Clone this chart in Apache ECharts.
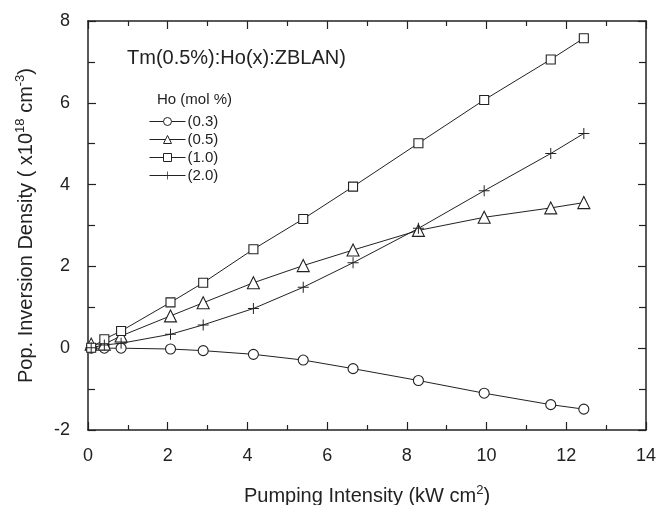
<!DOCTYPE html>
<html>
<head>
<meta charset="utf-8">
<script src="https://cdn.jsdelivr.net/npm/echarts@6/dist/echarts.min.js"></script>
<style>
  html, body { margin: 0; padding: 0; background: #fff; }
  #chart { width: 662px; height: 505px; }
</style>
</head>
<body>
<div id="chart"></div>
<script>
// pumping intensity (kW cm^2), same for all four samples
const intensity = [0.08, 0.41, 0.83, 2.07, 2.89, 4.15, 5.40, 6.65, 8.29, 9.94, 11.61, 12.44];

// population inversion density (x10^18 cm^-3)
const ho03 = [0.0, 0.0, 0.0, -0.02, -0.06, -0.15, -0.29, -0.50, -0.79, -1.10, -1.38, -1.49];
const ho05 = [0.10, 0.10, 0.30, 0.79, 1.11, 1.60, 2.02, 2.40, 2.88, 3.20, 3.43, 3.56];
const ho10 = [0.01, 0.22, 0.42, 1.12, 1.60, 2.42, 3.16, 3.95, 5.01, 6.07, 7.06, 7.58];
const ho20 = [0.01, 0.08, 0.12, 0.34, 0.57, 0.97, 1.49, 2.09, 2.93, 3.85, 4.76, 5.25];

const seriesNames = ['(0.3)', '(0.5)', '(1.0)', '(2.0)'];

const xTicks = [0, 2, 4, 6, 8, 10, 12, 14];
const yTicks = [-2, 0, 2, 4, 6, 8];

const ink = '#222';
const font = 'Liberation Sans, Arial, sans-serif';
const plusPath = 'path://M4.55,0h0.9v4.55h4.55v0.9h-4.55v4.55h-0.9v-4.55h-4.55v-0.9h4.55z';

const chart = echarts.init(document.getElementById('chart'), null, { renderer: 'canvas' });

const zip = arr => intensity.map((x, i) => [x, arr[i]]);

// open markers: white fill with a thin dark outline
function makeSeries(name, values, symbol, size) {
  const plus = symbol === plusPath;
  return {
    name: name,
    type: 'line',
    data: zip(values),
    symbol: symbol,
    symbolSize: size,
    showAllSymbol: true,
    lineStyle: { color: ink, width: 1 },
    itemStyle: plus
      ? { color: ink, borderWidth: 0 }
      : { color: '#fff', borderColor: ink, borderWidth: 1.1 },
    emphasis: { disabled: true },
    animation: false
  };
}

const nameRich = {
  t: { fontSize: 20, fontFamily: font, color: ink, lineHeight: 24 },
  s: { fontSize: 13, fontFamily: font, color: ink, verticalAlign: 'top', lineHeight: 16 }
};

const tickAxisX = (pos, labels) => ({
  type: 'value',
  position: pos,
  min: xTicks[0],
  max: xTicks[xTicks.length - 1],
  interval: 2,
  axisLine: { show: true, onZero: false, lineStyle: { color: ink, width: 1.5 } },
  axisTick: { inside: true, length: 8, lineStyle: { color: ink, width: 1.2 } },
  minorTick: { show: true, splitNumber: 2, length: 5, lineStyle: { color: ink, width: 1.2 } },
  splitLine: { show: false },
  axisLabel: { show: labels, color: ink, fontSize: 18, fontFamily: font, margin: 17 }
});

const tickAxisY = (pos, labels) => ({
  type: 'value',
  position: pos,
  min: yTicks[0],
  max: yTicks[yTicks.length - 1],
  interval: 2,
  axisLine: { show: true, onZero: false, lineStyle: { color: ink, width: 1.5 } },
  axisTick: { inside: true, length: 8, lineStyle: { color: ink, width: 1.2 } },
  minorTick: { show: true, splitNumber: 2, length: 7, lineStyle: { color: ink, width: 1.2 } },
  splitLine: { show: false },
  axisLabel: { show: labels, color: ink, fontSize: 18, fontFamily: font, margin: 18 }
});

const xMain = Object.assign(tickAxisX('bottom', true), {
  name: '{t|Pumping Intensity (kW cm}{s|2}{t|)}',
  nameLocation: 'middle',
  nameGap: 54,
  nameTextStyle: { rich: nameRich }
});

const yMain = Object.assign(tickAxisY('left', true), {
  name: '{t|Pop. Inversion Density ( x10}{s|18}{t| cm}{s|-3}{t|)}',
  nameLocation: 'middle',
  nameGap: 50,
  nameTextStyle: { rich: nameRich }
});

const option = {
  backgroundColor: '#fff',
  animation: false,
  grid: { left: 88, right: 16, top: 21, bottom: 75, containLabel: false, outerBoundsMode: 'none' },
  xAxis: [xMain, tickAxisX('top', false)],
  yAxis: [yMain, tickAxisY('right', false)],
  legend: {
    orient: 'vertical',
    left: 144,
    top: 109,
    itemWidth: 36,
    itemHeight: 10,
    itemGap: 3,
    data: seriesNames,
    itemStyle: { borderWidth: 1 },
    lineStyle: { width: 1 },
    textStyle: { color: ink, fontSize: 15, lineHeight: 15, fontFamily: font, padding: [0, 0, 0, -3] },
    selectedMode: false
  },
  graphic: [
    {
      type: 'text',
      left: 127,
      top: 48,
      style: { text: 'Tm(0.5%):Ho(x):ZBLAN)', fill: ink, fontSize: 20, fontFamily: font }
    },
    {
      type: 'text',
      left: 157,
      top: 92,
      style: { text: 'Ho (mol %)', fill: ink, fontSize: 15, fontFamily: font }
    }
  ],
  series: [
    makeSeries(seriesNames[0], ho03, 'circle', 10),
    makeSeries(seriesNames[1], ho05, 'triangle', 12),
    makeSeries(seriesNames[2], ho10, 'rect', 9),
    makeSeries(seriesNames[3], ho20, plusPath, 11)
  ]
};

chart.setOption(option);
</script>
</body>
</html>
